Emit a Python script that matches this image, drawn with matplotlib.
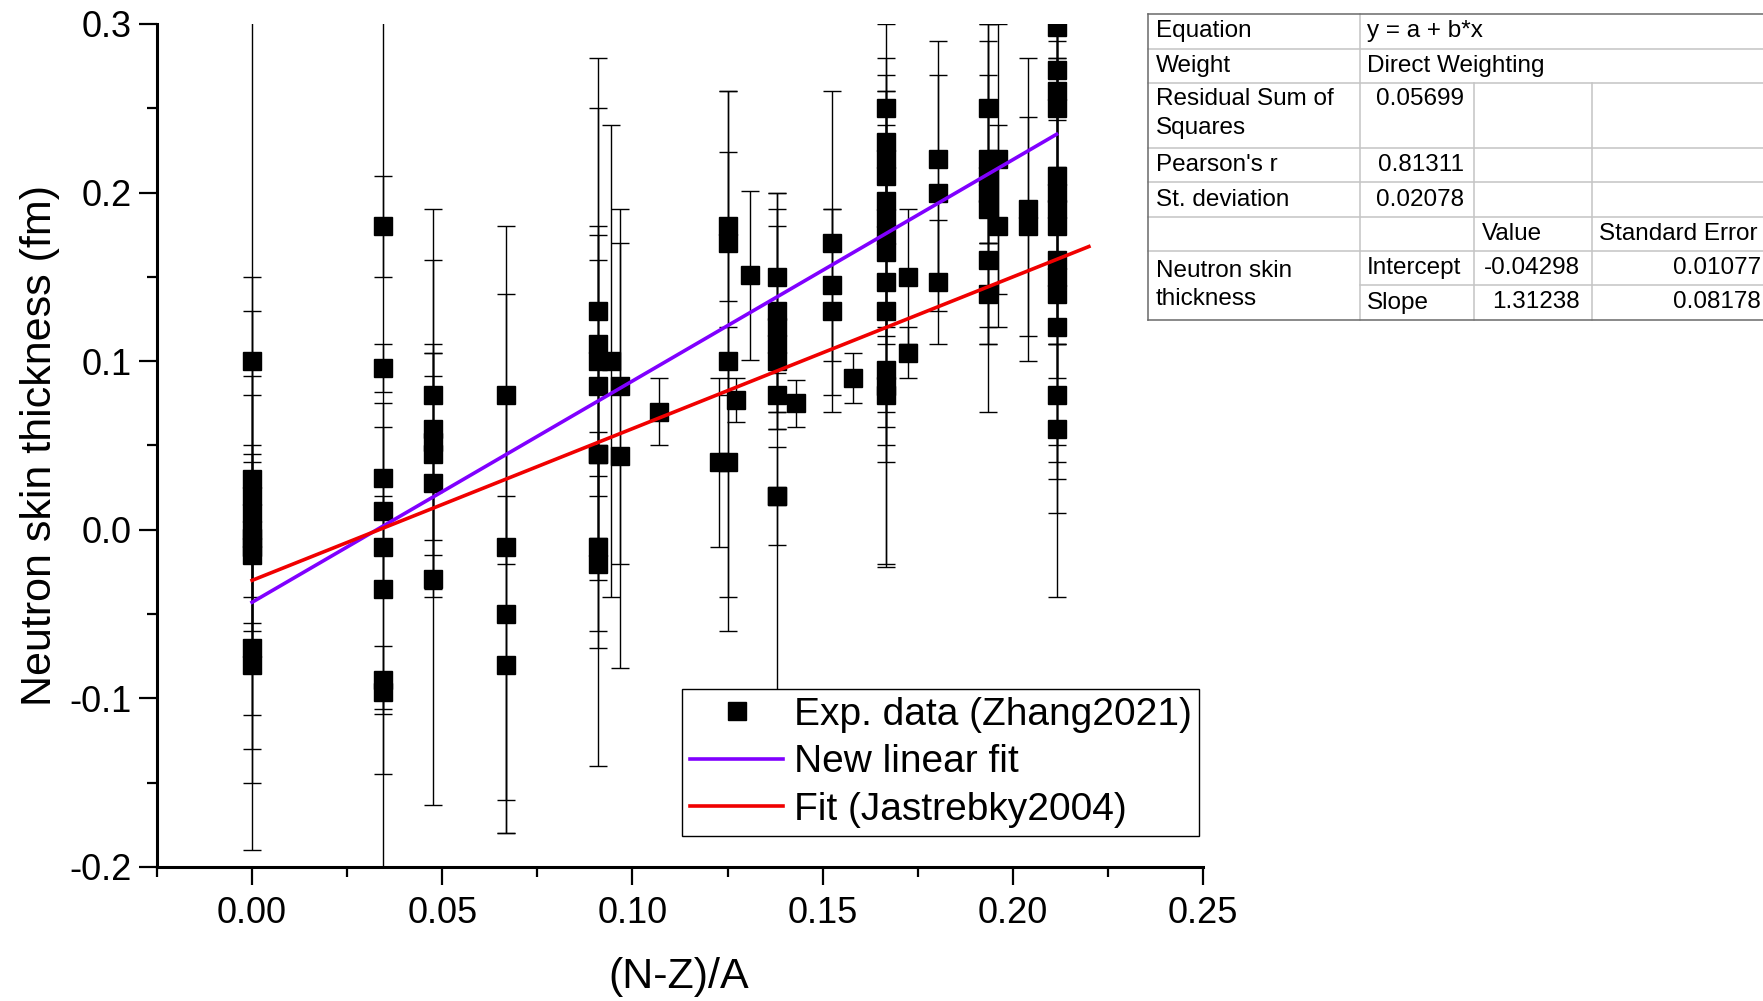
import numpy as np
import matplotlib.pyplot as plt
from matplotlib.ticker import MultipleLocator, FormatStrFormatter
from matplotlib.lines import Line2D

plt.rcParams['font.family'] = ['Liberation Sans', 'DejaVu Sans']
plt.rcParams['axes.unicode_minus'] = False

# (N-Z)/A, neutron skin thickness and its uncertainty (fm), grouped by nucleus
asym = ([0.0] * 10 + [0.0345] * 8 + [0.0476] * 6 + [0.0667] * 4 + [0.0909] * 8
        + [0.0943] + [0.0968] * 2 + [0.1071] + [0.1228] + [0.125] * 4 + [0.1273]
        + [0.1308] + [0.1379] * 8 + [0.1429] + [0.1525] * 3 + [0.1579]
        + [0.1667] * 13 + [0.1724] * 2 + [0.1803] * 3 + [0.1935] * 7
        + [0.1961] * 2 + [0.2039] * 2 + [0.2115] * 14)
skin = [0.100, 0.030, 0.020, 0.010, 0.000, -0.005, -0.010, -0.015, -0.070, -0.080,
        0.180, 0.096, 0.031, 0.011, -0.010, -0.035, -0.089, -0.096,
        0.080, 0.060, 0.052, 0.045, 0.028, -0.029,
        0.080, -0.010, -0.050, -0.080,
        0.130, 0.110, 0.100, 0.085, 0.045, 0.045, -0.010, -0.020,
        0.100,
        0.085, 0.044,
        0.070,
        0.040,
        0.180, 0.170, 0.100, 0.040,
        0.077,
        0.151,
        0.150, 0.130, 0.120, 0.110, 0.100, 0.080, 0.020, 0.020,
        0.075,
        0.170, 0.145, 0.130,
        0.090,
        0.250, 0.230, 0.220, 0.210, 0.195, 0.185, 0.175, 0.165, 0.147, 0.130,
        0.095, 0.085, 0.080,
        0.150, 0.105,
        0.220, 0.200, 0.147,
        0.250, 0.220, 0.210, 0.200, 0.190, 0.160, 0.140,
        0.220, 0.180,
        0.190, 0.180,
        0.298, 0.273, 0.260, 0.250, 0.210, 0.200, 0.190, 0.180, 0.160, 0.150,
        0.140, 0.120, 0.080, 0.060]
skin_err = [0.210, 0.100, 0.060, 0.081, 0.150, 0.050, 0.050, 0.065, 0.060, 0.110,
            0.030, 0.014, 0.280, 0.050, 0.030, 0.110, 0.020, 0.010,
            0.110, 0.100, 0.058, 0.060, 0.063, 0.134,
            0.100, 0.150, 0.130, 0.100,
            0.150, 0.140, 0.080, 0.090, 0.115, 0.013, 0.050, 0.120,
            0.140,
            0.105, 0.126,
            0.020,
            0.050,
            0.044, 0.090, 0.160, 0.080,
            0.013,
            0.050,
            0.050, 0.060, 0.060, 0.017, 0.030, 0.020, 0.180, 0.029,
            0.014,
            0.090, 0.045, 0.060,
            0.015,
            0.050, 0.050, 0.040, 0.045, 0.075, 0.070, 0.065, 0.095, 0.086, 0.080,
            0.055, 0.107, 0.100,
            0.040, 0.015,
            0.070, 0.070, 0.037,
            0.050, 0.050, 0.090, 0.090, 0.020, 0.090, 0.030,
            0.080, 0.060,
            0.090, 0.065,
            0.050, 0.030, 0.045, 0.040, 0.090, 0.080, 0.070, 0.070, 0.120, 0.060,
            0.180, 0.090, 0.030, 0.050]

# linear fits: intercept, slope and x range
new_fit = (-0.04298, 1.31238)
new_fit_span = (0.0, 0.2115)
jas_fit = (-0.03, 0.90)
jas_fit_span = (0.0, 0.22)

# fit report rows
report_labels = ["Equation", "Weight", "Residual Sum of\nSquares", "Pearson's r",
                 "St. deviation"]
report_values = ["y = a + b*x", "Direct Weighting", "0.05699", "0.81311", "0.02078"]
param_names = ["Intercept", "Slope"]
param_values = ["-0.04298", "1.31238"]
param_errors = ["0.01077", "0.08178"]

W, H = 1763, 1001
fig = plt.figure(figsize=(W / 100, H / 100), dpi=100)
ax = fig.add_axes([157 / W, 1 - 867 / H, 1046 / W, 843 / H])

ax.errorbar(asym, skin, yerr=skin_err, fmt='none', ecolor='black',
            elinewidth=1.0, capsize=6.5, capthick=1.0, zorder=2)
ax.plot(asym, skin, 's', color='black', markersize=13, zorder=3,
        label='Exp. data (Zhang2021)')

xs = np.array(new_fit_span)
ax.plot(xs, new_fit[0] + new_fit[1] * xs, color='#8000ff', lw=2.6, zorder=4,
        label='New linear fit')
xs = np.array(jas_fit_span)
ax.plot(xs, jas_fit[0] + jas_fit[1] * xs, color='#f00000', lw=2.6, zorder=4,
        label='Fit (Jastrebky2004)')

ax.set_xlim(-0.025, 0.25)
ax.set_ylim(-0.2, 0.3)
ax.xaxis.set_major_locator(MultipleLocator(0.05))
ax.xaxis.set_minor_locator(MultipleLocator(0.025))
ax.yaxis.set_major_locator(MultipleLocator(0.1))
ax.yaxis.set_minor_locator(MultipleLocator(0.05))
ax.xaxis.set_major_formatter(FormatStrFormatter('%.2f'))
ax.yaxis.set_major_formatter(FormatStrFormatter('%.1f'))

for side in ['top', 'right']:
    ax.spines[side].set_visible(False)
for side in ['left', 'bottom']:
    ax.spines[side].set_linewidth(2.2)
ax.tick_params(which='major', direction='out', length=13, width=1.6,
               labelsize=26)
ax.tick_params(which='minor', direction='out', length=7, width=1.6)
ax.tick_params(axis='x', which='major', pad=8)
ax.tick_params(axis='y', which='major', pad=5)

ax.set_xlabel('(N-Z)/A', fontsize=31)
ax.set_ylabel('Neutron skin thickness (fm)', fontsize=31)
ax.xaxis.set_label_coords(0.499, -0.107)
ax.yaxis.set_label_coords(-0.093, 0.5)

leg = ax.legend(loc='lower left', bbox_to_anchor=(0.502, 0.037), fontsize=28,
                frameon=True, fancybox=False, framealpha=1, edgecolor='black',
                handlelength=2.4, handletextpad=0.27, borderpad=0.2,
                labelspacing=0.3, borderaxespad=0)
leg.get_frame().set_linewidth(1.0)


def fx(px):
    return px / W


def fy(py):
    return 1 - py / H


def hline(x0, x1, y, color):
    fig.add_artist(Line2D([fx(x0), fx(x1)], [fy(y), fy(y)],
                          transform=fig.transFigure, color=color, lw=1.1))


def vline(x, y0, y1, color):
    fig.add_artist(Line2D([fx(x), fx(x)], [fy(y0), fy(y1)],
                          transform=fig.transFigure, color=color, lw=1.1))


# fit report table
rows = [14, 49, 83, 148, 182, 217, 251, 285, 320]
cols = [1148, 1360, 1474, 1592, 1775]
grid = '#c4c4c4'
border = '#6a6a6a'
for y in rows[1:-1]:
    hline(cols[0] if y != rows[7] else cols[1], cols[-1], y, grid)
vline(cols[1], rows[0], rows[-1], grid)
vline(cols[2], rows[2], rows[-1], grid)
vline(cols[3], rows[2], rows[-1], grid)
hline(cols[0], cols[-1], rows[0], border)
hline(cols[0], cols[-1], rows[-1], border)
vline(cols[0], rows[0], rows[-1], border)

tsize = 17.5
for i, (lab, val) in enumerate(zip(report_labels, report_values)):
    top, bot = rows[i], rows[i + 1]
    mid = (top + bot) / 2
    if '\n' in lab:
        fig.text(fx(1156), fy(top + 5), lab, fontsize=tsize, va='top',
                 ha='left', linespacing=1.4)
    else:
        fig.text(fx(1156), fy(mid), lab, fontsize=tsize, va='center', ha='left')
    if i < 2:
        fig.text(fx(1367), fy(mid), val, fontsize=tsize, va='center', ha='left')
    elif '\n' in lab:
        fig.text(fx(1464), fy(top + 5), val, fontsize=tsize, va='top',
                 ha='right')
    else:
        fig.text(fx(1464), fy(mid), val, fontsize=tsize, va='center',
                 ha='right')

fig.text(fx(1482), fy((rows[5] + rows[6]) / 2), 'Value', fontsize=tsize,
         va='center', ha='left')
fig.text(fx(1599), fy((rows[5] + rows[6]) / 2), 'Standard Error',
         fontsize=tsize, va='center', ha='left')
fig.text(fx(1156), fy(rows[7]), 'Neutron skin\nthickness', fontsize=tsize,
         va='center', ha='left', linespacing=1.4)
for j, (name, val, err) in enumerate(zip(param_names, param_values,
                                         param_errors)):
    mid = (rows[6 + j] + rows[7 + j]) / 2
    fig.text(fx(1367), fy(mid), name, fontsize=tsize, va='center', ha='left')
    fig.text(fx(1580), fy(mid), val, fontsize=tsize, va='center', ha='right')
    fig.text(fx(1761), fy(mid), err, fontsize=tsize, va='center', ha='right')

fig.savefig('out.png', dpi=100, facecolor='white')
